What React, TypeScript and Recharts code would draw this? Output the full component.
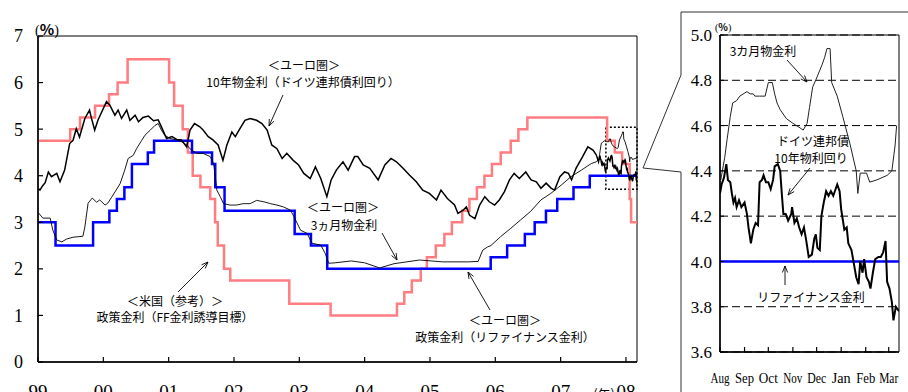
import React from "react";
import { LineChart, Line, XAxis, YAxis, CartesianGrid, ReferenceArea } from "recharts";

// ---- data ----
// US federal funds target rate (change dates)
const ffTarget: [string, number][] = [
  ["1999-01-01", 4.75], ["1999-06-30", 5.0], ["1999-08-24", 5.25], ["1999-11-16", 5.5],
  ["2000-02-02", 5.75], ["2000-03-21", 6.0], ["2000-05-16", 6.5], ["2001-01-03", 6.0],
  ["2001-01-31", 5.5], ["2001-03-20", 5.0], ["2001-04-18", 4.5], ["2001-05-15", 4.0],
  ["2001-06-27", 3.75], ["2001-08-21", 3.5], ["2001-09-17", 3.0], ["2001-10-02", 2.5],
  ["2001-11-06", 2.0], ["2001-12-11", 1.75], ["2002-11-06", 1.25], ["2003-06-25", 1.0],
  ["2004-06-30", 1.25], ["2004-08-10", 1.5], ["2004-09-21", 1.75], ["2004-11-10", 2.0],
  ["2004-12-14", 2.25], ["2005-02-02", 2.5], ["2005-03-22", 2.75], ["2005-05-03", 3.0],
  ["2005-06-30", 3.25], ["2005-08-09", 3.5], ["2005-09-20", 3.75], ["2005-11-01", 4.0],
  ["2005-12-13", 4.25], ["2006-01-31", 4.5], ["2006-03-28", 4.75], ["2006-05-10", 5.0],
  ["2006-06-29", 5.25], ["2007-09-18", 4.75], ["2007-10-31", 4.5], ["2007-12-11", 4.25],
  ["2008-01-22", 3.5], ["2008-01-30", 3.0], ["2008-03-14", 3.0],
];

// ECB main refinancing rate (change dates)
const ecbRefi: [string, number][] = [
  ["1999-01-01", 3.0], ["1999-04-09", 2.5], ["1999-11-05", 3.0], ["2000-02-04", 3.25],
  ["2000-03-17", 3.5], ["2000-04-28", 3.75], ["2000-06-09", 4.25], ["2000-09-06", 4.5],
  ["2000-10-11", 4.75], ["2001-05-11", 4.5], ["2001-08-31", 4.25], ["2001-09-18", 3.75],
  ["2001-11-09", 3.25], ["2002-12-06", 2.75], ["2003-03-07", 2.5], ["2003-06-06", 2.0],
  ["2005-12-06", 2.25], ["2006-03-08", 2.5], ["2006-06-15", 2.75], ["2006-08-09", 3.0],
  ["2006-10-11", 3.25], ["2006-12-13", 3.5], ["2007-03-14", 3.75], ["2007-06-13", 4.0],
  ["2008-03-14", 4.0],
];

// German 10y Bund yield, 1999 - Jul 2007
const bundLong: [string, number][] = [
  ["1999-01-04", 3.72], ["1999-01-12", 3.69], ["1999-01-26", 3.78], ["1999-02-10", 3.85],
  ["1999-02-28", 4.08], ["1999-03-17", 3.98], ["1999-04-16", 4.05], ["1999-05-04", 3.87],
  ["1999-05-30", 4.12], ["1999-06-27", 4.69], ["1999-07-16", 4.76], ["1999-08-03", 5.01],
  ["1999-08-21", 4.83], ["1999-09-20", 5.23], ["1999-10-16", 5.41], ["1999-10-27", 5.23],
  ["1999-11-14", 4.98], ["1999-12-02", 5.19], ["1999-12-20", 5.34], ["2000-01-19", 5.59],
  ["2000-02-06", 5.52], ["2000-03-06", 5.30], ["2000-03-24", 5.41], ["2000-04-12", 5.23],
  ["2000-05-11", 5.41], ["2000-05-29", 5.19], ["2000-06-27", 5.30], ["2000-07-16", 5.16],
  ["2000-08-10", 5.25], ["2000-09-09", 5.28], ["2000-10-08", 5.18], ["2000-11-03", 5.20],
  ["2000-11-21", 5.05], ["2000-12-20", 4.80], ["2001-01-19", 4.84], ["2001-02-14", 4.78],
  ["2001-03-13", 4.77], ["2001-04-11", 4.62], ["2001-04-30", 4.98], ["2001-05-25", 5.12],
  ["2001-06-24", 5.05], ["2001-07-12", 4.98], ["2001-08-10", 4.84], ["2001-09-05", 4.77],
  ["2001-10-04", 4.66], ["2001-10-31", 4.33], ["2001-11-22", 4.66], ["2001-12-20", 4.94],
  ["2002-01-08", 4.84], ["2002-02-03", 5.01], ["2002-03-03", 5.19], ["2002-04-01", 5.23],
  ["2002-05-07", 5.19], ["2002-06-06", 5.12], ["2002-07-05", 4.98], ["2002-07-31", 4.66],
  ["2002-08-29", 4.58], ["2002-09-27", 4.37], ["2002-10-23", 4.48], ["2002-11-28", 4.33],
  ["2002-12-28", 4.23], ["2003-01-26", 4.05], ["2003-03-03", 3.94], ["2003-04-01", 4.19],
  ["2003-05-01", 3.94], ["2003-06-04", 3.55], ["2003-06-28", 3.91], ["2003-07-27", 4.12],
  ["2003-09-02", 4.30], ["2003-10-01", 4.12], ["2003-11-06", 4.41], ["2003-11-24", 4.41],
  ["2003-12-24", 4.23], ["2004-01-30", 4.16], ["2004-03-17", 3.91], ["2004-04-23", 4.23],
  ["2004-05-28", 4.37], ["2004-06-27", 4.30], ["2004-08-03", 4.16], ["2004-09-09", 4.01],
  ["2004-10-16", 3.87], ["2004-11-21", 3.69], ["2004-12-28", 3.62], ["2005-02-06", 3.48],
  ["2005-03-03", 3.69], ["2005-04-08", 3.51], ["2005-05-18", 3.37], ["2005-06-06", 3.19],
  ["2005-07-05", 3.26], ["2005-07-23", 3.33], ["2005-08-10", 3.15], ["2005-09-09", 3.08],
  ["2005-10-05", 3.37], ["2005-11-03", 3.55], ["2005-11-28", 3.44], ["2005-12-28", 3.37],
  ["2006-01-23", 3.48], ["2006-02-21", 3.66], ["2006-03-21", 3.91], ["2006-04-16", 4.05],
  ["2006-05-15", 3.94], ["2006-06-20", 4.08], ["2006-07-20", 3.91], ["2006-08-18", 3.87],
  ["2006-09-13", 3.73], ["2006-10-12", 3.84], ["2006-11-10", 3.73], ["2006-11-28", 3.69],
  ["2006-12-28", 3.98], ["2007-01-23", 4.08], ["2007-02-14", 4.05], ["2007-03-03", 3.91],
  ["2007-03-28", 4.16], ["2007-05-04", 4.41], ["2007-06-02", 4.62], ["2007-07-01", 4.55],
  ["2007-07-19", 4.45],
];

// German 10y Bund yield, Aug 2007 - Mar 2008
const bundRecent: [string, number][] = [
  ["2007-08-01", 4.30], ["2007-08-03", 4.34], ["2007-08-06", 4.37], ["2007-08-09", 4.43],
  ["2007-08-11", 4.36], ["2007-08-14", 4.35], ["2007-08-16", 4.30], ["2007-08-18", 4.26],
  ["2007-08-20", 4.28], ["2007-08-22", 4.24], ["2007-08-25", 4.27], ["2007-08-28", 4.24],
  ["2007-09-01", 4.26], ["2007-09-04", 4.21], ["2007-09-06", 4.15], ["2007-09-09", 4.08],
  ["2007-09-12", 4.14], ["2007-09-15", 4.17], ["2007-09-18", 4.16], ["2007-09-20", 4.35],
  ["2007-09-23", 4.36], ["2007-09-25", 4.38], ["2007-09-28", 4.35], ["2007-10-01", 4.35],
  ["2007-10-04", 4.32], ["2007-10-07", 4.36], ["2007-10-09", 4.42], ["2007-10-13", 4.43],
  ["2007-10-16", 4.40], ["2007-10-18", 4.30], ["2007-10-20", 4.21], ["2007-10-23", 4.21],
  ["2007-10-26", 4.18], ["2007-10-30", 4.21], ["2007-10-31", 4.24], ["2007-11-03", 4.17],
  ["2007-11-06", 4.19], ["2007-11-09", 4.15], ["2007-11-12", 4.12], ["2007-11-15", 4.15],
  ["2007-11-18", 4.09], ["2007-11-21", 4.02], ["2007-11-25", 4.03], ["2007-11-28", 4.10],
  ["2007-11-30", 4.12], ["2007-12-02", 4.06], ["2007-12-05", 4.05], ["2007-12-07", 4.20],
  ["2007-12-10", 4.26], ["2007-12-13", 4.31], ["2007-12-16", 4.29], ["2007-12-19", 4.31],
  ["2007-12-22", 4.29], ["2007-12-25", 4.32], ["2007-12-27", 4.34], ["2007-12-30", 4.31],
  ["2008-01-01", 4.23], ["2008-01-05", 4.14], ["2008-01-08", 4.15], ["2008-01-10", 4.08],
  ["2008-01-14", 4.05], ["2008-01-17", 3.99], ["2008-01-20", 3.93], ["2008-01-23", 3.90],
  ["2008-01-25", 4.00], ["2008-01-28", 3.95], ["2008-01-30", 4.01], ["2008-02-02", 3.93],
  ["2008-02-05", 3.91], ["2008-02-07", 3.88], ["2008-02-10", 3.95], ["2008-02-13", 4.01],
  ["2008-02-17", 4.02], ["2008-02-20", 4.02], ["2008-02-23", 4.04], ["2008-02-26", 4.09],
  ["2008-02-28", 3.91], ["2008-03-02", 3.88], ["2008-03-05", 3.82], ["2008-03-07", 3.74],
  ["2008-03-10", 3.80], ["2008-03-14", 3.78],
];

// 3-month Euribor, 1999 - Jul 2007
const euriborLong: [string, number][] = [
  ["1999-01-04", 3.20], ["1999-01-28", 3.09], ["1999-03-10", 3.09], ["1999-03-25", 2.83],
  ["1999-04-16", 2.62], ["1999-05-14", 2.58], ["1999-06-10", 2.64], ["1999-07-16", 2.68],
  ["1999-09-09", 2.70], ["1999-09-20", 2.90], ["1999-10-08", 3.41], ["1999-10-31", 3.52],
  ["1999-11-25", 3.43], ["1999-12-12", 3.48], ["2000-01-11", 3.37], ["2000-01-26", 3.41],
  ["2000-02-17", 3.54], ["2000-03-06", 3.65], ["2000-04-04", 3.83], ["2000-04-30", 4.12],
  ["2000-05-19", 4.37], ["2000-06-17", 4.44], ["2000-07-05", 4.58], ["2000-08-03", 4.76],
  ["2000-08-21", 4.87], ["2000-09-20", 4.98], ["2000-10-16", 5.08], ["2000-11-03", 5.12],
  ["2000-11-21", 4.98], ["2000-12-09", 4.87], ["2001-01-08", 4.80], ["2001-02-14", 4.77],
  ["2001-03-13", 4.73], ["2001-04-11", 4.66], ["2001-05-08", 4.55], ["2001-06-06", 4.48],
  ["2001-07-12", 4.48], ["2001-08-21", 4.41], ["2001-09-09", 4.26], ["2001-09-27", 3.69],
  ["2001-10-16", 3.55], ["2001-11-03", 3.40], ["2001-12-09", 3.37], ["2002-01-15", 3.37],
  ["2002-02-21", 3.40], ["2002-04-01", 3.40], ["2002-05-07", 3.47], ["2002-06-17", 3.44],
  ["2002-07-24", 3.40], ["2002-08-29", 3.37], ["2002-10-04", 3.33], ["2002-11-13", 3.26],
  ["2002-12-02", 3.12], ["2003-01-08", 2.83], ["2003-02-14", 2.76], ["2003-03-13", 2.55],
  ["2003-05-01", 2.51], ["2003-05-26", 2.33], ["2003-06-14", 2.12], ["2003-07-20", 2.13],
  ["2003-10-19", 2.17], ["2004-01-01", 2.13], ["2004-03-25", 2.02], ["2004-06-13", 2.11],
  ["2004-11-03", 2.19], ["2005-03-13", 2.15], ["2005-08-03", 2.15], ["2005-09-27", 2.16],
  ["2005-10-22", 2.40], ["2005-11-18", 2.47], ["2005-12-07", 2.50], ["2006-01-30", 2.69],
  ["2006-03-28", 2.87], ["2006-05-22", 3.05], ["2006-07-16", 3.23], ["2006-09-13", 3.48],
  ["2006-11-07", 3.62], ["2007-01-05", 3.80], ["2007-02-28", 3.98], ["2007-04-27", 4.12],
  ["2007-06-21", 4.26], ["2007-07-20", 4.30],
];

// 3-month Euribor, Aug 2007 - Mar 2008
const euriborRecent: [string, number][] = [
  ["2007-08-02", 4.36], ["2007-08-07", 4.46], ["2007-08-10", 4.54], ["2007-08-14", 4.64],
  ["2007-08-17", 4.70], ["2007-08-22", 4.71], ["2007-08-26", 4.73], ["2007-09-04", 4.75],
  ["2007-09-08", 4.74], ["2007-09-12", 4.74], ["2007-09-14", 4.73], ["2007-09-20", 4.73],
  ["2007-09-27", 4.73], ["2007-10-01", 4.79], ["2007-10-06", 4.79], ["2007-10-09", 4.74],
  ["2007-10-12", 4.70], ["2007-10-16", 4.67], ["2007-10-24", 4.63], ["2007-11-01", 4.61],
  ["2007-11-10", 4.59], ["2007-11-14", 4.58], ["2007-11-19", 4.61], ["2007-11-22", 4.68],
  ["2007-11-26", 4.77], ["2007-12-01", 4.81], ["2007-12-08", 4.87], ["2007-12-11", 4.90],
  ["2007-12-14", 4.94], ["2007-12-18", 4.94], ["2007-12-20", 4.79], ["2007-12-27", 4.73],
  ["2008-01-03", 4.64], ["2008-01-12", 4.52], ["2008-01-20", 4.40], ["2008-01-22", 4.30],
  ["2008-01-25", 4.39], ["2008-02-02", 4.39], ["2008-02-06", 4.35], ["2008-02-15", 4.36],
  ["2008-02-28", 4.38], ["2008-03-05", 4.40], ["2008-03-09", 4.51], ["2008-03-11", 4.60],
];

const yearTicks = [1999, 2000, 2001, 2002, 2003, 2004, 2005, 2006, 2007, 2008];
const rateTicks = [0, 1, 2, 3, 4, 5, 6, 7];
const monthStarts = ["2007-08-01", "2007-09-01", "2007-10-01", "2007-11-01", "2007-12-01", "2008-01-01", "2008-02-01", "2008-03-01"];
const monthLabels = ["Aug", "Sep", "Oct", "Nov", "Dec", "Jan", "Feb", "Mar"];
const insetRateTicks = [3.6, 3.8, 4.0, 4.2, 4.4, 4.6, 4.8, 5.0];

// ---- helpers ----
const SERIF = '"Liberation Serif", "Times New Roman", serif';
const GOTHIC = '"Noto Sans CJK JP", "Noto Sans", sans-serif';
const RED = "#FF7C80";
const BLUE = "#0000FF";

const DAY = 86400000;
const yr = (d: string) => 1999 + (Date.parse(d) - Date.UTC(1999, 0, 1)) / (365.25 * DAY);
const toPoints = (rows: [string, number][]) => rows.map(([d, v]) => ({ x: yr(d), v }));

const MAIN_START = 1999;
const MAIN_END = yr("2008-03-03");
const INSET_START = yr("2007-08-01");
const INSET_END = yr("2008-03-14");
const monthTickValues = monthStarts.map(yr);

const ffPts = toPoints(ffTarget);
const refiPts = toPoints(ecbRefi);
const bundPts = toPoints([...bundLong, ...bundRecent]);
const euriborPts = toPoints([...euriborLong, ...euriborRecent]);
const bundInsetPts = toPoints(bundRecent);
const euriborInsetPts = toPoints(euriborRecent);
const refiInsetPts = [{ x: INSET_START, v: 4.0 }, { x: INSET_END, v: 4.0 }];

// ---- axis ticks (tick marks point inward) ----
const YearTick = (p: any) => {
  const { x, y, payload } = p;
  const year = Math.round(payload.value);
  const label = String(year % 100).padStart(2, "0");
  return (
    <g>
      <line x1={x} x2={x} y1={y} y2={y - 5} stroke="#000" strokeWidth={1.2} />
      <text x={x} y={y + 36} textAnchor="middle" fontFamily={SERIF} fontSize={19} fill="#000">{label}</text>
      {year === 2008 && (
        <text x={x - 11} y={y + 37} textAnchor="end" fontFamily={GOTHIC} fontSize={13} fill="#000">(年)</text>
      )}
    </g>
  );
};

const RateTick = (p: any) => {
  const { x, y, payload } = p;
  return (
    <g>
      <line x1={x} x2={x + 5} y1={y} y2={y} stroke="#000" strokeWidth={1.2} />
      <text x={x - 15} y={y} dy="0.36em" textAnchor="end" fontFamily={SERIF} fontSize={18} fill="#000">{payload.value}</text>
    </g>
  );
};

const MonthTick = (p: any) => {
  const { x, y, payload } = p;
  const i = monthTickValues.indexOf(payload.value);
  return (
    <g>
      <line x1={x} x2={x} y1={y} y2={y - 5} stroke="#000" strokeWidth={1.2} />
      <text x={x} y={y + 31} textAnchor="middle" fontFamily={SERIF} fontSize={15} textLength={19} lengthAdjust="spacingAndGlyphs" fill="#000">
        {monthLabels[i]}
      </text>
    </g>
  );
};

const InsetRateTick = (p: any) => {
  const { x, y, payload } = p;
  return (
    <g>
      <line x1={x} x2={x + 4} y1={y} y2={y} stroke="#000" />
      <text x={x - 8} y={y} dy="0.36em" textAnchor="end" fontFamily={SERIF} fontSize={17} fill="#000">{payload.value.toFixed(1)}</text>
    </g>
  );
};

// ---- annotations ----
const Arrow = ({ from, to }: { from: [number, number]; to: [number, number] }) => {
  const [x1, y1] = from;
  const [x2, y2] = to;
  const a = Math.atan2(y2 - y1, x2 - x1);
  const h = 7;
  const s = 0.38;
  const l = [x2 - h * Math.cos(a - s), y2 - h * Math.sin(a - s)];
  const r = [x2 - h * Math.cos(a + s), y2 - h * Math.sin(a + s)];
  return (
    <g stroke="#000" strokeWidth={0.9} fill="none">
      <line x1={x1} y1={y1} x2={x2} y2={y2} />
      <polyline points={`${l[0]},${l[1]} ${x2},${y2} ${r[0]},${r[1]}`} />
    </g>
  );
};

const notes: { text: string; x: number; y: number }[] = [
  { text: "＜ユーロ圏＞", x: 304, y: 70 },
  { text: "10年物金利（ドイツ連邦債利回り）", x: 303, y: 87 },
  { text: "＜ユーロ圏＞", x: 343, y: 212 },
  { text: "3ヵ月物金利", x: 344, y: 230 },
  { text: "＜米国（参考）＞", x: 175, y: 306 },
  { text: "政策金利（FF金利誘導目標）", x: 175, y: 322 },
  { text: "＜ユーロ圏＞", x: 505, y: 325 },
  { text: "政策金利（リファイナンス金利）", x: 505, y: 342 },
  { text: "3カ月物金利", x: 763, y: 56 },
  { text: "ドイツ連邦債", x: 813, y: 146 },
  { text: "10年物利回り", x: 811, y: 163 },
  { text: "リファイナンス金利", x: 811, y: 302 },
];

const arrows: { from: [number, number]; to: [number, number] }[] = [
  { from: [283, 95], to: [269, 126] },
  { from: [382, 233], to: [397, 260] },
  { from: [178, 292], to: [208, 262] },
  { from: [490, 310], to: [468, 272] },
  { from: [787, 60], to: [807, 82] },
  { from: [810, 168], to: [788, 195] },
  { from: [785, 285], to: [785, 266] },
];

export default function App() {
  return (
    <div style={{ position: "absolute", left: 0, top: 0, width: 908, height: 392, background: "#fff", overflow: "hidden" }}>
      {/* main chart: 1999 - 2008 */}
      <div style={{ position: "absolute", left: 0, top: 0 }}>
        <LineChart width={660} height={392} margin={{ top: 36, right: 23, bottom: 0, left: 0 }}>
          <XAxis
            type="number"
            dataKey="x"
            domain={[MAIN_START, MAIN_END]}
            allowDataOverflow
            ticks={yearTicks}
            interval={0}
            tick={YearTick}
            tickLine={false}
            tickSize={0}
            tickMargin={0}
            height={30}
            axisLine={{ stroke: "#000", strokeWidth: 1.5 }}
          />
          <YAxis
            type="number"
            domain={[0, 7]}
            ticks={rateTicks}
            interval={0}
            width={38}
            tick={RateTick}
            tickLine={false}
            tickSize={0}
            tickMargin={0}
            axisLine={{ stroke: "#000", strokeWidth: 1.5 }}
          />
          <ReferenceArea x1={MAIN_START} x2={MAIN_END} y1={0} y2={7} fill="none" stroke="#000" strokeWidth={1} />
          <ReferenceArea x1={yr("2007-09-11")} x2={MAIN_END} y1={3.71} y2={5.04} fill="none" stroke="#000" strokeWidth={1.5} strokeDasharray="2 2" />
          <Line data={ffPts} dataKey="v" type="stepAfter" stroke={RED} strokeWidth={2.5} dot={false} isAnimationActive={false} />
          <Line data={refiPts} dataKey="v" type="stepAfter" stroke={BLUE} strokeWidth={2.5} dot={false} isAnimationActive={false} />
          <Line data={euriborPts} dataKey="v" type="linear" stroke="#000" strokeWidth={0.9} dot={false} isAnimationActive={false} />
          <Line data={bundPts} dataKey="v" type="linear" stroke="#000" strokeWidth={1.5} dot={false} isAnimationActive={false} />
        </LineChart>
      </div>

      {/* inset: Aug 2007 - Mar 2008 */}
      <div style={{ position: "absolute", left: 680, top: 0 }}>
        <LineChart width={228} height={392} margin={{ top: 35, right: 9, bottom: 0, left: 0 }}>
          <CartesianGrid vertical={false} stroke="#000" strokeDasharray="8 4" />
          <XAxis
            type="number"
            dataKey="x"
            domain={[INSET_START, INSET_END]}
            allowDataOverflow
            ticks={monthTickValues}
            interval={0}
            tick={MonthTick}
            tickLine={false}
            tickSize={0}
            tickMargin={0}
            height={40}
            axisLine={{ stroke: "#000", strokeWidth: 1.5 }}
          />
          <YAxis
            type="number"
            domain={[3.6, 5.0]}
            allowDataOverflow
            ticks={insetRateTicks}
            interval={0}
            width={40}
            tick={InsetRateTick}
            tickLine={false}
            tickSize={0}
            tickMargin={0}
            axisLine={{ stroke: "#000", strokeWidth: 1.5 }}
          />
          <ReferenceArea x1={INSET_START} x2={INSET_END} y1={3.6} y2={5.0} fill="none" stroke="#000" strokeWidth={1} />
          <Line data={refiInsetPts} dataKey="v" type="linear" stroke={BLUE} strokeWidth={2.5} dot={false} isAnimationActive={false} />
          <Line data={euriborInsetPts} dataKey="v" type="linear" stroke="#222" strokeWidth={1} dot={false} isAnimationActive={false} />
          <Line data={bundInsetPts} dataKey="v" type="linear" stroke="#000" strokeWidth={2} dot={false} isAnimationActive={false} />
        </LineChart>
      </div>

      {/* labels, arrows and the callout frame */}
      <svg width={908} height={392} style={{ position: "absolute", left: 0, top: 0, pointerEvents: "none" }}>
        <polyline points="908,12 681,12 681,75 643,168 681,172 681,392" fill="none" stroke="#333" strokeWidth={1} />
        <text x={35} y={35} fill="#000">
          <tspan fontFamily={SERIF} fontSize={14}>(</tspan>
          <tspan fontFamily={GOTHIC} fontSize={15} fontWeight="bold">%</tspan>
          <tspan fontFamily={SERIF} fontSize={14}>)</tspan>
        </text>
        <text x={715} y={31} fill="#000">
          <tspan fontFamily={SERIF} fontSize={10}>(</tspan>
          <tspan fontFamily={GOTHIC} fontSize={10} fontWeight="bold">%</tspan>
          <tspan fontFamily={SERIF} fontSize={10}>)</tspan>
        </text>
        {notes.map((n, i) => (
          <text key={i} x={n.x} y={n.y} textAnchor="middle" fontFamily={GOTHIC} fontSize={12} fill="#000">
            {n.text}
          </text>
        ))}
        {arrows.map((a, i) => (
          <Arrow key={i} from={a.from} to={a.to} />
        ))}
      </svg>
    </div>
  );
}
